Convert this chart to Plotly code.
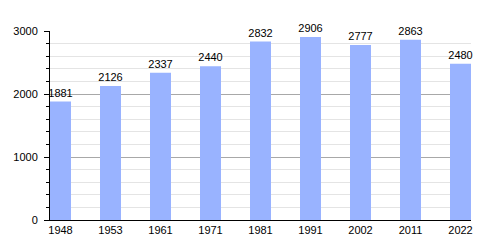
import plotly.graph_objects as go

years = ["1948", "1953", "1961", "1971", "1981", "1991", "2002", "2011", "2022"]
population = [1881, 2126, 2337, 2440, 2832, 2906, 2777, 2863, 2480]

fig = go.Figure(go.Bar(
    x=years, y=population,
    marker=dict(color="#99b3ff", line=dict(width=0)),
    width=0.42,
    text=[str(v) for v in population],
    textposition="outside",
    constraintext="none",
    textfont=dict(family="Liberation Sans, Arial", size=11, color="black"),
    cliponaxis=False,
))

fig.update_layout(
    width=500, height=250,
    margin=dict(l=50, r=29, t=31, b=30),
    plot_bgcolor="white", paper_bgcolor="white",
    showlegend=False,
    font=dict(family="Liberation Sans, Arial", size=11, color="black"),
)
fig.update_xaxes(
    type="category", range=[-0.21, 8.21],
    showline=True, linecolor="black", linewidth=1,
    ticks="", showgrid=False,
    tickfont=dict(size=11, color="black"),
)
fig.update_yaxes(
    range=[0, 3000], tickvals=[0, 1000, 2000, 3000],
    showline=True, linecolor="black", linewidth=1,
    ticks="outside", ticklen=5, tickcolor="black",
    ticklabelstandoff=4,
    showgrid=True, gridcolor="#a8a8a8", gridwidth=1,
    zeroline=False,
    minor=dict(dtick=200, showgrid=True, gridcolor="#e4e4e4",
               ticks="outside", ticklen=3, tickcolor="black"),
    tickfont=dict(size=11, color="black"),
)

fig.write_html("out.html")
